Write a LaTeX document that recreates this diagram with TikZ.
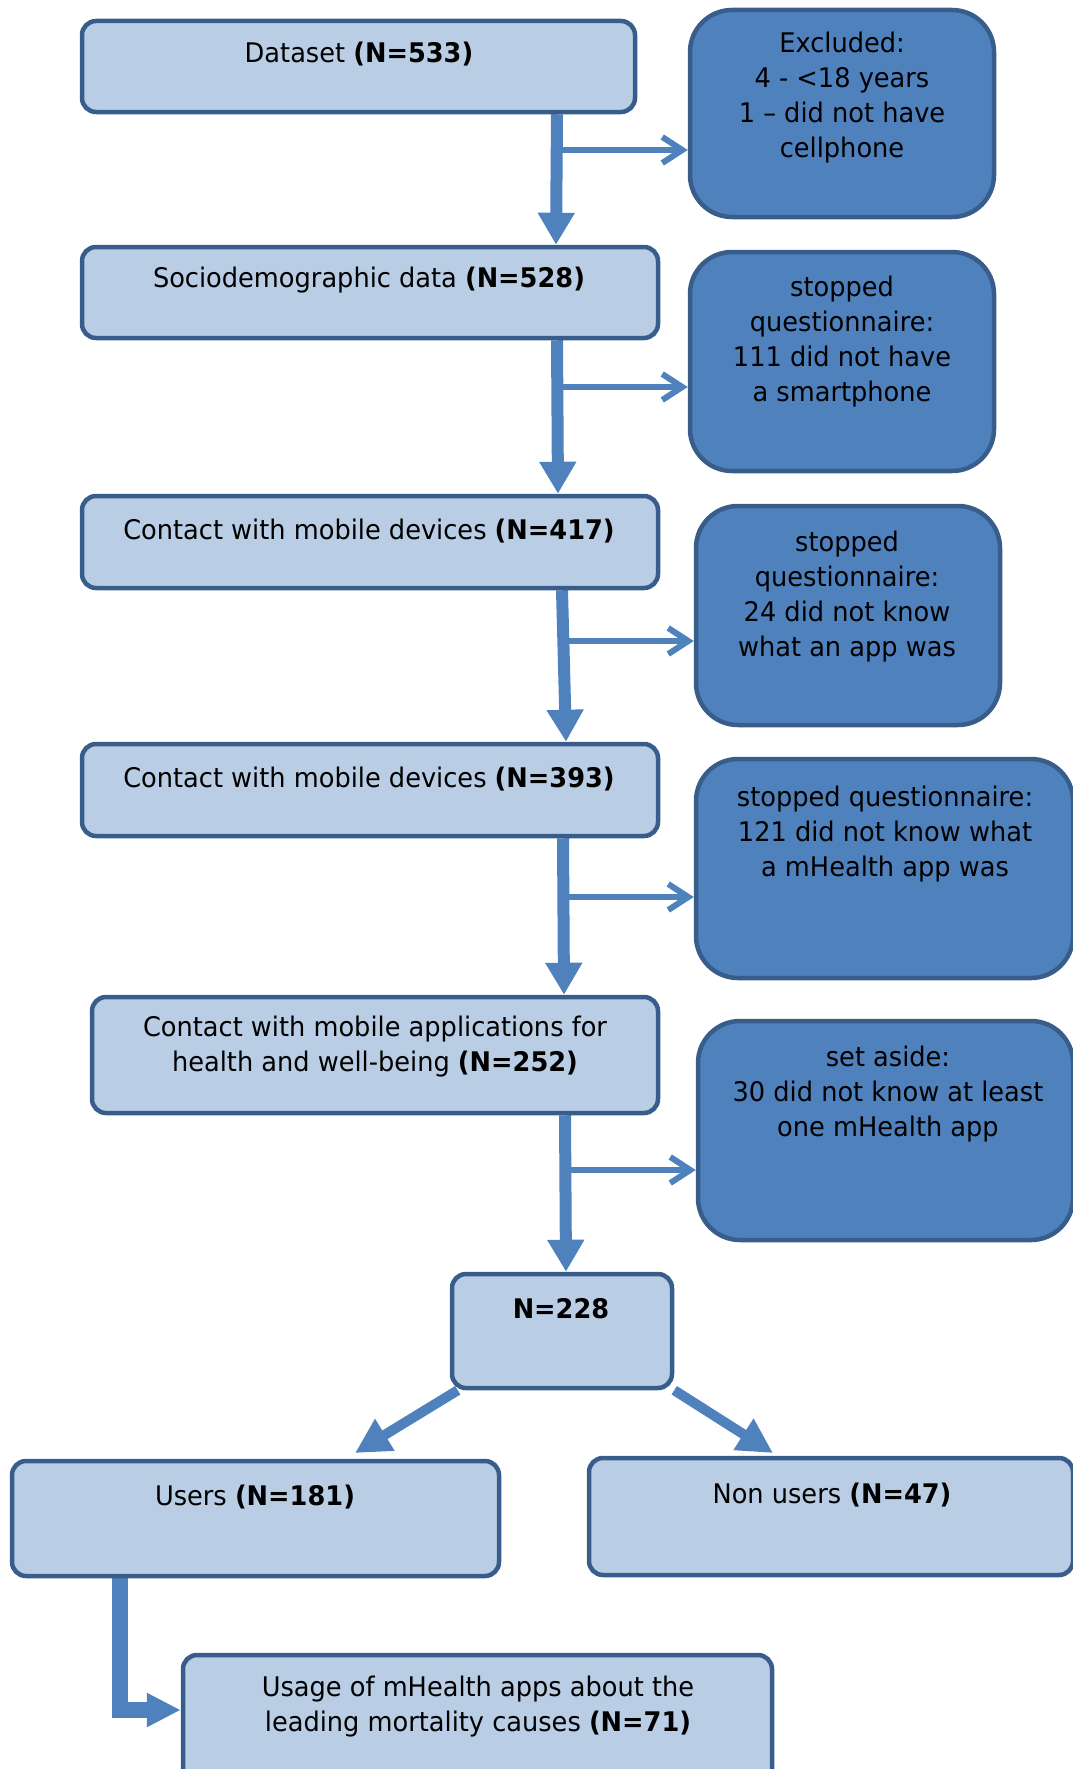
\documentclass[tikz,border=0pt]{standalone}
\usepackage{fontspec}
\setmainfont{DejaVu Sans}[FakeStretch=0.95]
\usetikzlibrary{arrows.meta,calc}
\pgfdeclarelayer{bg}
\pgfsetlayers{bg,main}
\definecolor{lightc}{HTML}{B9CDE5}
\definecolor{darkc}{HTML}{4F81BD}
\definecolor{edgec}{HTML}{385D8A}
\definecolor{arrowc}{HTML}{4F81BD}
\begin{document}
\begin{tikzpicture}[x=1pt,y=-1pt,
  lightbox/.style={draw=edgec, line width=4.5pt, fill=lightc, rounded corners=14pt, inner sep=0pt},
  darkbox/.style={draw=edgec, line width=4.5pt, fill=darkc, rounded corners=42pt, inner sep=0pt},
  txt/.style={font=\fontsize{27}{35}\selectfont, align=center, inner sep=0pt, text=black},
  mainarrow/.style={draw=arrowc, line width=12pt, -{Triangle[length=32pt,width=35pt]}},
  sidearrow/.style={draw=arrowc, line width=6pt, -{Straight Barb[length=20pt,width=26pt]}},
  diagarrow/.style={draw=arrowc, line width=10pt, -{Triangle[length=35pt,width=35pt]}},
  elbowarrow/.style={draw=arrowc, line width=16pt, line join=miter, -{Triangle[length=34pt,width=32pt]}}
]
\useasboundingbox (0,0) rectangle (1073,1769);
\clip (0,0) rectangle (1073,1769);

% boxes
\node[lightbox, minimum width=553pt, minimum height=91pt] (b1) at (358.5,66.5) {};
\node[darkbox, minimum width=304pt, minimum height=207pt] (x1) at (842,113.5) {};
\node[lightbox, minimum width=576pt, minimum height=91pt] (b2) at (370,292.5) {};
\node[darkbox, minimum width=304pt, minimum height=219pt] (x2) at (842,361.5) {};
\node[lightbox, minimum width=576pt, minimum height=92pt] (b3) at (370,542) {};
\node[darkbox, minimum width=304pt, minimum height=219pt] (x3) at (848,615.5) {};
\node[lightbox, minimum width=576pt, minimum height=92pt] (b4) at (370,790) {};
\node[darkbox, minimum width=377pt, minimum height=219pt] (x4) at (884.5,868.5) {};
\node[darkbox, minimum width=375pt, minimum height=219pt] (x5) at (885.5,1130.5) {};
\node[lightbox, minimum width=566pt, minimum height=116pt] (b5) at (375,1055) {};
\node[lightbox, minimum width=220pt, minimum height=114pt] (b6) at (562,1331) {};
\node[lightbox, minimum width=487pt, minimum height=115pt] (b7) at (255.5,1518.5) {};
\node[lightbox, minimum width=484pt, minimum height=117pt] (b8) at (831,1516.5) {};
\node[lightbox, minimum width=589pt, minimum height=173pt] (b9) at (477.5,1741.5) {};

% texts
\node[txt] (t1) at (359,54) {Dataset \textbf{(N=533)}};
\node[txt] (tx1) at (842,98) {Excluded:\\4 - <18 years\\1 – did not have\\cellphone};
\node[txt] (t2) at (369,280) {Sociodemographic data \textbf{(N=528)}};
\node[txt] (tx2) at (842,342) {stopped\\questionnaire:\\111 did not have\\a smartphone};
\node[txt] (t3) at (369,531) {Contact with mobile devices \textbf{(N=417)}};
\node[txt] (tx3) at (847,596.5) {stopped\\questionnaire:\\24 did not know\\what an app was};
\node[txt] (t4) at (369,779) {Contact with mobile devices \textbf{(N=393)}};
\node[txt] (tx4) at (885,834) {stopped questionnaire:\\121 did not know what\\a mHealth app was};
\node[txt] (t5) at (375,1047) {Contact with mobile applications for\\health and well-being \textbf{(N=252)}};
\node[txt] (tx5) at (888,1094) {set aside:\\30 did not know at least\\one mHealth app};
\node[txt] (t6) at (561,1309) {\textbf{N=228}};
\node[txt] (t7) at (255,1497) {Users \textbf{(N=181)}};
\node[txt] (t8) at (832,1495) {Non users \textbf{(N=47)}};
\node[txt] (t9) at (478,1707) {Usage of mHealth apps about the\\leading mortality causes \textbf{(N=71)}};

% helper coordinates
\coordinate (v1t) at (557,0); \coordinate (v1b) at (556,0);
\coordinate (v2t) at (557,0); \coordinate (v2b) at (558,0);
\coordinate (v3t) at (562,0); \coordinate (v3b) at (566,0);
\coordinate (v4t) at (563,0); \coordinate (v4b) at (564,0);
\coordinate (v5t) at (565,0); \coordinate (v5b) at (566,0);
\coordinate (s1) at (557,150);
\coordinate (s2) at (557,387);
\coordinate (s3) at (564,641);
\coordinate (s4) at (563,897);
\coordinate (s5) at (565,1170);
\coordinate (dlt) at (355,1453);
\coordinate (drt) at (773,1453);
\coordinate (ec) at (119.5,1710);

\begin{pgfonlayer}{bg}
\draw[mainarrow] (b1.south -| v1t) -- (b2.north -| v1b);
\draw[mainarrow] (b2.south -| v2t) -- (b3.north -| v2b);
\draw[mainarrow] (b3.south -| v3t) -- (b4.north -| v3b);
\draw[mainarrow] (b4.south -| v4t) -- (b5.north -| v4b);
\draw[mainarrow] (b5.south -| v5t) -- (b6.north -| v5b);
\draw[sidearrow] (s1) -- (x1.west |- s1);
\draw[sidearrow] (s2) -- (x2.west |- s2);
\draw[sidearrow] (s3) -- (x3.west |- s3);
\draw[sidearrow] (s4) -- (x4.west |- s4);
\draw[sidearrow] (s5) -- (x5.west |- s5);
\draw[diagarrow] ([xshift=8pt]b6.south west) -- (dlt);
\draw[diagarrow] (b6.south east) -- (drt);
\draw[elbowarrow] (b7.south -| ec) -- (ec) -- (b9.west |- ec);
\end{pgfonlayer}
\end{tikzpicture}
\end{document}
